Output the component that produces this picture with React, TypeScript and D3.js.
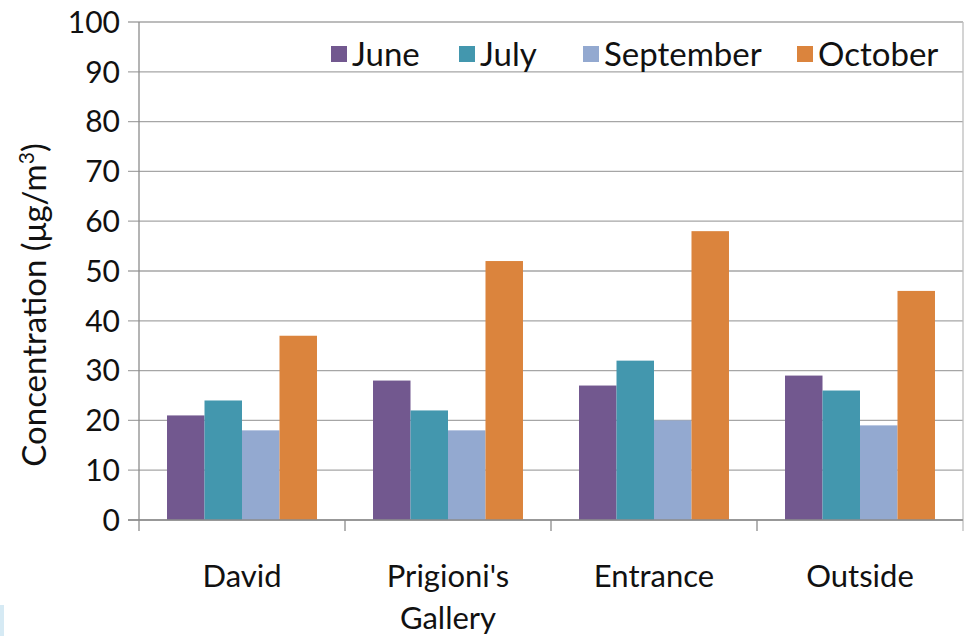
import React from "react";
import * as d3 from "d3";

// Sites sampled and monthly concentration series (µg/m³)
const categories: string[][] = [["David"], ["Prigioni's", "Gallery"], ["Entrance"], ["Outside"]];
const seriesNames = ["June", "July", "September", "October"];
const june = [21, 28, 27, 29];
const july = [24, 22, 32, 26];
const september = [18, 18, 20, 19];
const october = [37, 52, 58, 46];
const yTicks = [0, 10, 20, 30, 40, 50, 60, 70, 80, 90, 100];
const colors = ["#72588F", "#4397AE", "#93A9D0", "#DB843D"];

const W = 965;
const H = 636;
const FONT = "Lato, 'Open Sans', sans-serif";

export default function App() {
  const seriesValues = [june, july, september, october];
  const left = 139;
  const right = 963;
  const top = 22;
  const bottom = 520;

  const y = d3.scaleLinear().domain([0, 100]).range([bottom, top]);
  const catKeys = categories.map((c) => c.join(" "));
  const x0 = d3.scaleBand<string>().domain(catKeys).range([left, right]).padding(0);
  const bw = x0.bandwidth();
  const x1 = d3
    .scaleBand<string>()
    .domain(seriesNames)
    .range([bw * 0.136, bw * (1 - 0.136)])
    .padding(0);

  const legendX = [331, 459, 583, 797];

  return (
    <svg
      width={W}
      height={H}
      style={{ position: "absolute", left: 0, top: 0, background: "#fff" }}
      fontFamily={FONT}
    >
      <rect x={0} y={605} width={4} height={31} fill="#d6eaf4" />

      {/* gridlines and tick labels */}
      {yTicks.map((t) => (
        <g key={t}>
          <line x1={128} x2={right} y1={y(t)} y2={y(t)} stroke="#a6a6a6" strokeWidth={1.3} />
          <text
            x={120}
            y={y(t)}
            dy="0.36em"
            textAnchor="end"
            fontSize={30}
            fill="#111"
          >
            {t}
          </text>
        </g>
      ))}

      {/* bars */}
      {catKeys.map((c, ci) =>
        seriesNames.map((s, si) => {
          const v = seriesValues[si][ci];
          return (
            <rect
              key={c + s}
              x={(x0(c) as number) + (x1(s) as number)}
              y={y(v)}
              width={x1.bandwidth()}
              height={y(0) - y(v)}
              fill={colors[si]}
            />
          );
        })
      )}

      {/* axes */}
      <line x1={left} x2={left} y1={top} y2={bottom} stroke="#8c8c8c" strokeWidth={1.3} />
      <line x1={right} x2={right} y1={top} y2={bottom + 11} stroke="#bdbdbd" strokeWidth={1.3} />
      <line x1={128} x2={right} y1={bottom} y2={bottom} stroke="#8c8c8c" strokeWidth={1.3} />
      {catKeys.map((c) => (
        <line
          key={"t" + c}
          x1={x0(c) as number}
          x2={x0(c) as number}
          y1={bottom}
          y2={bottom + 11}
          stroke="#8c8c8c"
          strokeWidth={1.3}
        />
      ))}

      {/* category labels */}
      {categories.map((lines, ci) => (
        <text
          key={"c" + ci}
          x={(x0(catKeys[ci]) as number) + bw / 2}
          y={587}
          textAnchor="middle"
          fontSize={31}
          fill="#111"
        >
          {lines.map((l, li) => (
            <tspan key={li} x={(x0(catKeys[ci]) as number) + bw / 2} dy={li === 0 ? 0 : 42}>
              {l}
            </tspan>
          ))}
        </text>
      ))}

      {/* y axis title */}
      <text
        transform={`translate(46, 305) rotate(-90)`}
        textAnchor="middle"
        fontSize={33}
        fill="#111"
      >
        Concentration (μg/m
        <tspan baselineShift="super" fontSize={21}>3</tspan>
        <tspan>)</tspan>
      </text>

      {/* legend */}
      {seriesNames.map((s, si) => (
        <g key={"l" + s}>
          <rect x={legendX[si]} y={46} width={16} height={16} fill={colors[si]} />
          <text x={legendX[si] + 21} y={54} dy="0.36em" fontSize={33} fill="#111">
            {s}
          </text>
        </g>
      ))}
    </svg>
  );
}
